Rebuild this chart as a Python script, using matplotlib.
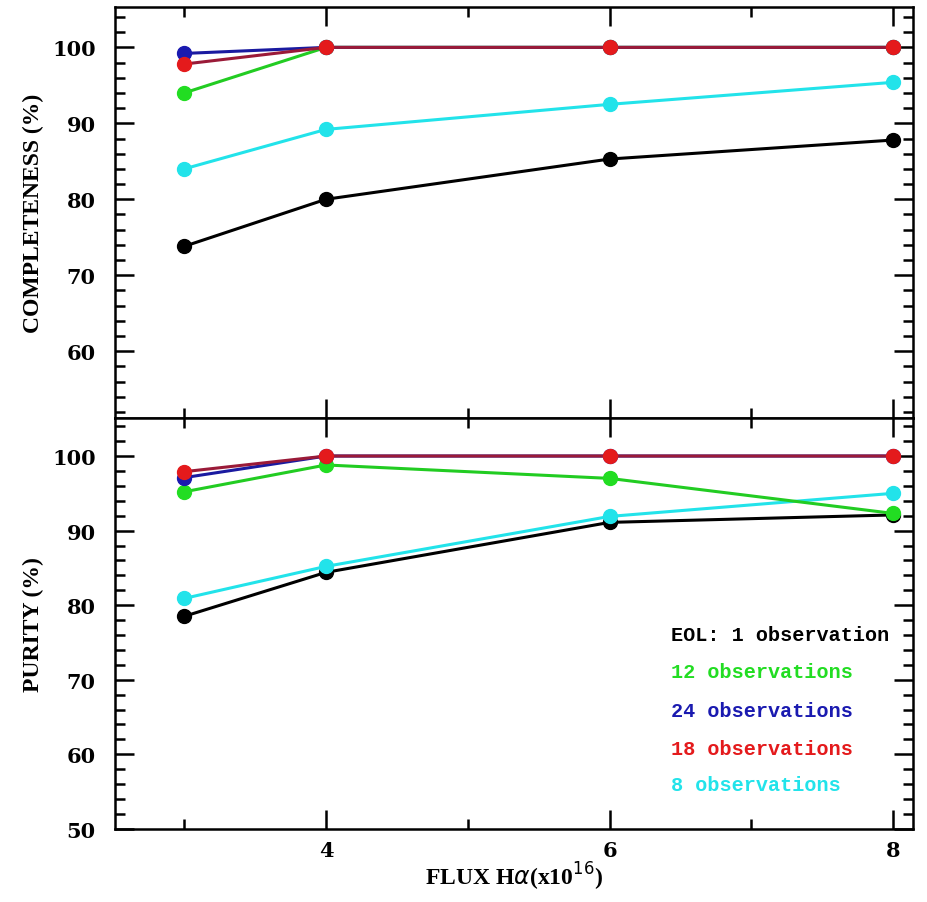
import matplotlib
matplotlib.use("Agg")
import matplotlib.pyplot as plt
from matplotlib.ticker import MultipleLocator

flux = [3, 4, 6, 8]

# Completeness (%) per survey configuration
comp_eol = [73.8, 80.0, 85.3, 87.8]
comp_12 = [94.0, 100.0, 100.0, 100.0]
comp_24 = [99.2, 100.0, 100.0, 100.0]
comp_18 = [97.8, 100.0, 100.0, 100.0]
comp_8 = [84.0, 89.2, 92.5, 95.4]

# Purity (%) per survey configuration
pur_eol = [78.5, 84.4, 91.1, 92.1]
pur_12 = [95.2, 98.8, 97.0, 92.3]
pur_24 = [97.1, 100.0, 100.0, 100.0]
pur_18 = [97.9, 100.0, 100.0, 100.0]
pur_8 = [80.9, 85.2, 91.9, 95.0]

labels = ["EOL: 1 observation", "12 observations", "24 observations",
          "18 observations", "8 observations"]
colors = ["#000000", "#22dd22", "#1a1ab0", "#e41a1c", "#22e3ea"]
line_colors = ["#000000", "#22cc22", "#1a1aa0", "#9a1a38", "#22e3ea"]

fig = plt.figure(figsize=(9.28, 9.03), dpi=100)
ax1 = fig.add_axes([0.124, 0.536, 0.860, 0.455])
ax2 = fig.add_axes([0.124, 0.081, 0.860, 0.455], sharex=ax1)

tick_font = dict(family="DejaVu Serif", weight="bold", size=15)
label_font = dict(family="Liberation Serif", weight="bold", size=17)

def draw(ax, series):
    # draw order: black, cyan, green, blue, red (red on top)
    order = [0, 4, 1, 2, 3]
    for k, i in enumerate(order):
        ax.plot(flux, series[i], color=line_colors[i], lw=2.2, zorder=2 + k)
        ax.plot(flux, series[i], ls="none", marker="o", ms=10,
                color=colors[i], mec=colors[i], zorder=3 + k)

draw(ax1, [comp_eol, comp_12, comp_24, comp_18, comp_8])
draw(ax2, [pur_eol, pur_12, pur_24, pur_18, pur_8])

ax1.set_ylim(51.2, 105.3)
ax2.set_ylim(50, 105.1)
ax1.set_xlim(2.513, 8.14)

for ax in (ax1, ax2):
    ax.yaxis.set_major_locator(MultipleLocator(10))
    ax.yaxis.set_minor_locator(MultipleLocator(2))
    ax.xaxis.set_major_locator(MultipleLocator(2))
    ax.xaxis.set_minor_locator(MultipleLocator(1))
    ax.tick_params(which="both", direction="in", top=True, right=True, width=1.8)
    ax.tick_params(which="major", length=14)
    ax.tick_params(which="minor", length=7)
    for s in ax.spines.values():
        s.set_linewidth(1.8)
    ax.tick_params(axis="y", pad=14)

ax1.set_yticks([60, 70, 80, 90, 100])
ax2.set_yticks([50, 60, 70, 80, 90, 100])
for ax in (ax1, ax2):
    ax.set_yticklabels([f"{int(v)}" for v in ax.get_yticks()], **tick_font)
ax1.tick_params(axis="x", labelbottom=False)
ax2.set_xticks([4, 6, 8])
ax2.set_xticklabels(["4", "6", "8"], **tick_font)
ax2.tick_params(axis="x", pad=8)

ax1.set_ylabel("COMPLETENESS (%)", labelpad=6, **label_font)
ax2.set_ylabel("PURITY (%)", labelpad=6, **label_font)
ax2.set_xlabel(r"FLUX H$\alpha$(x10$^{16}$)", labelpad=0, **label_font)

legend_y = [0.474, 0.382, 0.287, 0.195, 0.107]
for lab, c, yy in zip(labels, colors, legend_y):
    ax2.text(0.697, yy, lab, transform=ax2.transAxes, color=c,
             family="Liberation Mono", weight="bold", size=14.5, va="center")

fig.savefig("out.png", dpi=100)
